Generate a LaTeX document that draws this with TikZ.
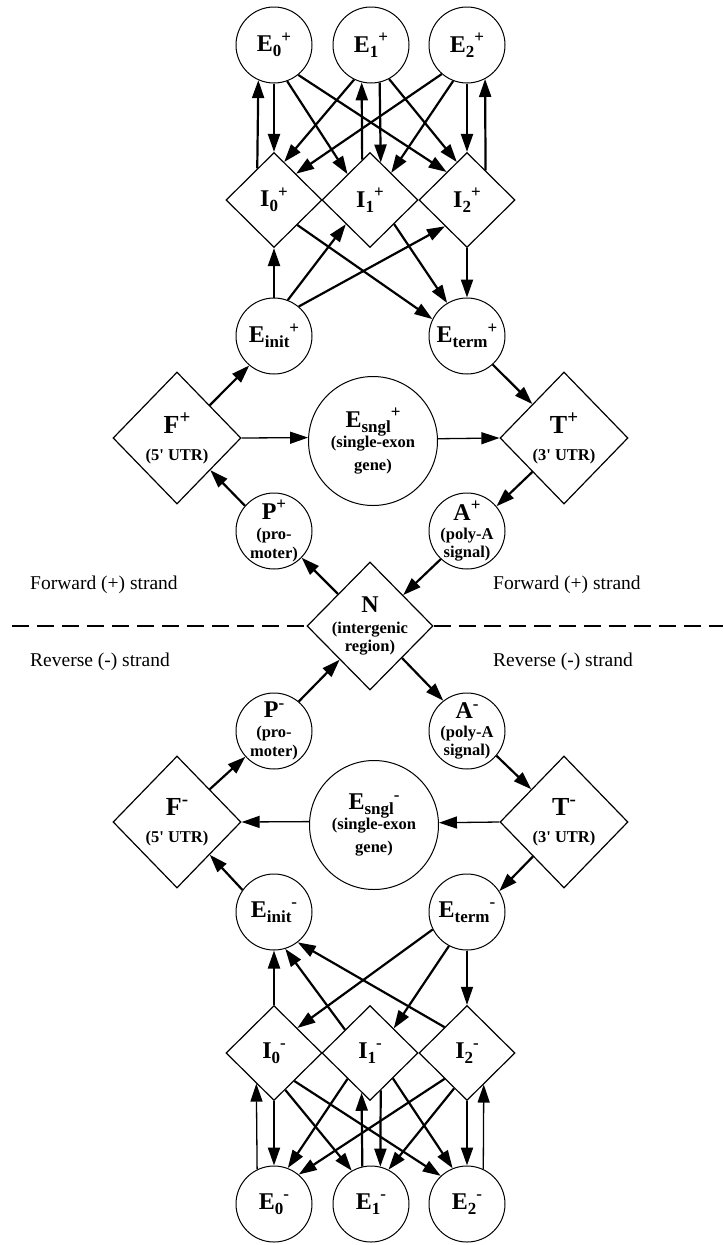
\documentclass[tikz,border=0pt]{standalone}
\usepackage{fontspec}
\setmainfont{Liberation Serif}
\usetikzlibrary{shapes.geometric,arrows.meta}
\newcommand{\nlab}[3]{{\fontsize{24}{24}\selectfont #1}\raisebox{-5pt}{\fontsize{17}{17}\selectfont #2}\raisebox{9.5pt}{\fontsize{17}{17}\selectfont #3}}
\newcommand{\nlabb}[2]{{\fontsize{26}{26}\selectfont #1}\raisebox{10pt}{\fontsize{19}{19}\selectfont #2}}
\newcommand{\cl}[1]{\makebox[0pt]{#1}}
\begin{document}
\begin{tikzpicture}[x=1pt,y=-1pt,
  lab/.style={align=center,inner sep=0pt,font=\bfseries\fontsize{16.5}{19}\selectfont,execute at begin node={\lineskiplimit=-50pt\relax}},
  circ/.style={lab,circle,draw,line width=1pt,minimum size=76pt},
  bigcirc/.style={lab,circle,draw,line width=1pt,minimum size=129pt},
  idia/.style={lab,diamond,draw,line width=1.2pt,minimum width=96pt,minimum height=95pt},
  bdia/.style={lab,diamond,draw,line width=1.2pt,minimum width=128pt,minimum height=132pt},
  ndia/.style={lab,diamond,draw,line width=1.2pt,minimum width=126pt,minimum height=128pt},
  arr/.style={-{Triangle[length=18pt,width=12pt]},line width=2.2pt},
  tarr/.style={-{Triangle[length=18pt,width=12pt]},line width=1.3pt},
  side/.style={anchor=west,inner sep=0pt,font=\fontsize{19.5}{22}\selectfont},
  dashline/.style={line width=2pt,dash pattern=on 17pt off 8pt}
]
\useasboundingbox (0,0) rectangle (723,1245);
% ---------- forward strand ----------
\node[circ] (E0p) at (274,45) {\cl{\nlab{E}{0}{+}}};
\node[circ] (E1p) at (371,45) {\cl{\nlab{E}{1}{+}}};
\node[circ] (E2p) at (467,45) {\cl{\nlab{E}{2}{+}}};
\node[idia] (I0p) at (274,200) {\cl{\nlab{I}{0}{+}}};
\node[idia] (I1p) at (370,200) {\cl{\nlab{I}{1}{+}}};
\node[idia] (I2p) at (467,200) {\cl{\nlab{I}{2}{+}}};
\node[circ] (Einitp) at (274,336) {\cl{\nlab{E}{init}{+}}};
\node[circ] (Etermp) at (467,336) {\cl{\nlab{E}{term}{+}}};
\node[bdia] (Fp) at (177,438) {\cl{\nlabb{F}{+}}\\[8pt]\cl{(5\textquotesingle{} UTR)}};
\node[bigcirc] (Esnglp) at (373,441) {\cl{\nlab{E}{sngl}{+}}\\[1pt]\cl{(single-exon}\\[4pt]\cl{gene)}};
\node[bdia] (Tp) at (564,438) {\cl{\nlabb{T}{+}}\\[8pt]\cl{(3\textquotesingle{} UTR)}};
\node[circ] (Pp) at (274,531) {\cl{\nlab{P}{}{+}}\\[1pt]\cl{(pro-}\\\cl{moter)}};
\node[circ] (Ap) at (467,531) {\cl{\nlab{A}{}{+}}\\[0pt]\cl{(poly-A}\\[-1pt]\cl{signal)}};
% ---------- intergenic ----------
\node[ndia] (N) at (370,626) {\cl{\nlab{N}{}{}}\\[2pt]\cl{(intergenic}\\[-1pt]\cl{region)}};
% ---------- reverse strand ----------
\node[circ] (Pm) at (274,731) {\cl{\nlab{P}{}{-}}\\[1pt]\cl{(pro-}\\\cl{moter)}};
\node[circ] (Am) at (467,731) {\cl{\nlab{A}{}{-}}\\[0pt]\cl{(poly-A}\\[-1pt]\cl{signal)}};
\node[bdia] (Fm) at (177,822) {\cl{\nlabb{F}{-}}\\[8pt]\cl{(5\textquotesingle{} UTR)}};
\node[bigcirc] (Esnglm) at (374,825) {\cl{\nlab{E}{sngl}{-}}\\[1pt]\cl{(single-exon}\\[4pt]\cl{gene)}};
\node[bdia] (Tm) at (564,822) {\cl{\nlabb{T}{-}}\\[8pt]\cl{(3\textquotesingle{} UTR)}};
\node[circ] (Einitm) at (274,912) {\cl{\nlab{E}{init}{-}}};
\node[circ] (Etermm) at (467,912) {\cl{\nlab{E}{term}{-}}};
\node[idia] (I0m) at (274,1053) {\cl{\nlab{I}{0}{-}}};
\node[idia] (I1m) at (370,1053) {\cl{\nlab{I}{1}{-}}};
\node[idia] (I2m) at (467,1053) {\cl{\nlab{I}{2}{-}}};
\node[circ] (E0m) at (274,1204) {\cl{\nlab{E}{0}{-}}};
\node[circ] (E1m) at (371,1204) {\cl{\nlab{E}{1}{-}}};
\node[circ] (E2m) at (467,1204) {\cl{\nlab{E}{2}{-}}};
% ---------- strand labels and divider ----------
\node[side] (fl) at (30,585) {Forward (+) strand};
\node[side] (fr) at (493,585) {Forward (+) strand};
\node[side] (rl) at (30,662) {Reverse (-) strand};
\node[side] (rr) at (493,662) {Reverse (-) strand};
\coordinate (dl) at (12,626);
\coordinate (dr) at (723,626);
\draw[dashline] (dl) -- (N.west);
\draw[dashline] (N.east) -- (dr);
% ---------- top connectors ----------
\draw[arr] (I0p.118) -- (E0p.246.7);
\draw[arr] (E0p.south) -- (I0p.north);
\draw[arr] (E0p.290.2) -- (I1p.131.3);
\draw[arr] (E0p.309.1) -- (I2p.126.5);
\draw[arr] (E1p.244.7) -- (I0p.75);
\draw[arr] (E1p.283.7) -- (I1p.74.9);
\draw[arr] (I1p.101.5) -- (E1p.256.3);
\draw[arr] (E1p.298.5) -- (I2p.105.1);
\draw[arr] (E2p.229.1) -- (I0p.50.6);
\draw[arr] (E2p.249.6) -- (I1p.52.5);
\draw[arr] (E2p.south) -- (I2p.north);
\draw[arr] (I2p.58.5) -- (E2p.298.3);
\draw[arr] (Einitp.north) -- (I0p.south);
\draw[arr] (Einitp.69.1) -- (I1p.225);
\draw[arr] (Einitp.50.6) -- (I2p.-130.6);
\draw[arr] (I0p.-47.3) -- (Etermp.154.1);
\draw[arr] (I1p.-45) -- (Etermp.121.4);
\draw[arr] (I2p.south) -- (Etermp.north);
% ---------- middle connectors ----------
\draw[arr] (Fp.45) -- (Einitp.230);
\draw[tarr] (Fp.east) -- (Esnglp.177.3);
\draw[tarr] (Esnglp.2.7) -- (Tp.west);
\draw[arr] (Etermp.312.1) -- (Tp.133.3);
\draw[arr] (Tp.227.5) -- (Ap.40);
\draw[arr] (Pp.139.6) -- (Fp.-44.1);
\draw[arr] (N.135) -- (Pp.316);
\draw[arr] (Ap.227) -- (N.43.3);
\draw[arr] (Pm.50.5) -- (N.228.4);
\draw[arr] (N.-45.8) -- (Am.128.3);
\draw[arr] (Fm.45.8) -- (Pm.222.8);
\draw[tarr] (Esnglm.177.3) -- (Fm.east);
\draw[tarr] (Tm.west) -- (Esnglm.2.7);
\draw[arr] (Am.320) -- (Tm.135);
\draw[arr] (Tm.228.5) -- (Etermm.33.7);
\draw[arr] (Einitm.145.4) -- (Fm.-45);
% ---------- bottom connectors ----------
\draw[arr] (I0m.north) -- (Einitm.south);
\draw[arr] (I1m.137.2) -- (Einitm.287.6);
\draw[arr] (I2m.131.8) -- (Einitm.308.7);
\draw[arr] (Etermm.207.1) -- (I0m.47.3);
\draw[arr] (Etermm.242.2) -- (I1m.46.1);
\draw[tarr] (Etermm.south) -- (I2m.north);
\draw[arr] (I0m.south) -- (E0m.north);
\draw[tarr] (E0m.116.6) -- (I0m.240.8);
\draw[arr] (I0m.-73.4) -- (E1m.120.7);
\draw[arr] (I0m.-54.9) -- (E2m.133.9);
\draw[arr] (I1m.-131.3) -- (E0m.69.1);
\draw[arr] (E1m.103.7) -- (I1m.258.5);
\draw[arr] (I1m.-74.9) -- (E1m.76.3);
\draw[arr] (I1m.-48.7) -- (E2m.112.6);
\draw[arr] (I2m.-131.6) -- (E0m.50.4);
\draw[arr] (I2m.-110.7) -- (E1m.63.4);
\draw[arr] (I2m.south) -- (E2m.north);
\draw[tarr] (E2m.65.1) -- (I2m.-62.9);
\end{tikzpicture}
\end{document}
